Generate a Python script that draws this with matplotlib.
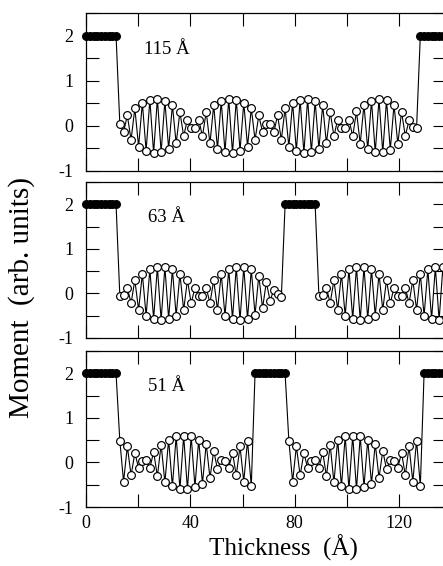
import numpy as np
import matplotlib
matplotlib.use('Agg')
import matplotlib.pyplot as plt
from matplotlib.ticker import MultipleLocator

plt.rcParams['font.family'] = ['Liberation Serif', 'DejaVu Serif']
plt.rcParams['axes.unicode_minus'] = False

# monolayer spacing along the growth direction (Angstrom)
spacing = 1.44

# Fe layers (moment fixed at 2)
fe = [2, 2, 2, 2, 2, 2, 2, 2, 2]

# Cr moments, 115 A spacer (80 monolayers)
cr_115 = [0.05, -0.14, 0.23, -0.31, 0.39, -0.46, 0.51, -0.55, 0.58, -0.60,
          0.60, -0.58, 0.55, -0.51, 0.46, -0.39, 0.31, -0.23, 0.14, -0.05,
          -0.05, 0.14, -0.23, 0.31, -0.39, 0.46, -0.51, 0.55, -0.58, 0.60,
          -0.60, 0.58, -0.55, 0.51, -0.46, 0.39, -0.31, 0.23, -0.14, 0.05,
          0.05, -0.14, 0.23, -0.31, 0.39, -0.46, 0.51, -0.55, 0.58, -0.60,
          0.60, -0.58, 0.55, -0.51, 0.46, -0.39, 0.31, -0.23, 0.14, -0.05,
          -0.05, 0.14, -0.23, 0.32, -0.40, 0.47, -0.52, 0.56, -0.59, 0.60,
          -0.59, 0.57, -0.53, 0.47, -0.40, 0.31, -0.22, 0.12, -0.03, -0.04]

# Cr moments, 63 A spacer (44 monolayers)
cr_63 = [-0.05, -0.04, 0.13, -0.22, 0.30, -0.37, 0.44, -0.50, 0.54, -0.57,
         0.59, -0.60, 0.59, -0.57, 0.54, -0.50, 0.44, -0.37, 0.30, -0.22,
         0.13, -0.05, -0.05, 0.13, -0.22, 0.30, -0.37, 0.44, -0.50, 0.54,
         -0.57, 0.59, -0.60, 0.59, -0.57, 0.54, -0.48, 0.40, -0.33, 0.25,
         -0.16, 0.08, -0.02, -0.09]

# Cr moments, 51 A spacer (36 monolayers)
cr_51 = [0.49, -0.43, 0.36, -0.29, 0.21, -0.12, 0.04, 0.06, -0.13, 0.24,
         -0.31, 0.40, -0.45, 0.51, -0.54, 0.59, -0.60, 0.60, -0.60, 0.59,
         -0.55, 0.51, -0.48, 0.42, -0.35, 0.26, -0.15, 0.06, 0.04, -0.12,
         0.22, -0.29, 0.36, -0.43, 0.49, -0.53]

panels = [fe + cr_115 + fe,
          fe + cr_63 + fe + cr_63[:35],
          fe + cr_51 + fe + cr_51 + fe]
labels = ['115 Å', '63 Å', '51 Å']

W, H = 443, 566
fig = plt.figure(figsize=(W / 100, H / 100), dpi=100)
frames = [(13, 171), (182, 338), (351, 507)]

for i, m in enumerate(panels):
    top, bot = frames[i]
    ax = fig.add_axes([86 / W, 1 - bot / H, 360 / W, (bot - top) / H])
    m = np.array(m, dtype=float)
    x = spacing * np.arange(len(m))
    iron = m == 2
    ax.plot(x, m, color='k', lw=0.8, zorder=2)
    ax.plot(x[~iron], m[~iron], 'o', ms=5.6, mfc='white', mec='k', mew=0.85, zorder=3)
    ax.plot(x[iron], m[iron], 'o', ms=5.6, mfc='k', mec='k', mew=0.85, zorder=3,
            clip_on=False)
    ax.set_xlim(0, 138)
    ax.set_ylim(-1, 2.5)
    ax.xaxis.set_major_locator(MultipleLocator(40))
    ax.xaxis.set_minor_locator(MultipleLocator(20))
    ax.yaxis.set_major_locator(MultipleLocator(1))
    ax.yaxis.set_minor_locator(MultipleLocator(0.5))
    ax.tick_params(which='both', direction='in', top=True, right=True,
                   length=9.5, width=0.8)
    ax.tick_params(axis='y', labelsize=13, pad=9)
    ax.tick_params(axis='x', labelsize=13, pad=6)
    for s in ax.spines.values():
        s.set_linewidth(0.9)
    if i < 2:
        ax.tick_params(axis='x', labelbottom=False)
    ax.text(31, 1.70, labels[i], fontsize=13.5, ha='center', va='center')

fig.text(22 / W, 1 - 298 / H, 'Moment  (arb. units)', rotation=90,
         fontsize=21, ha='center', va='center')
fig.text(283 / W, 1 - 548 / H, 'Thickness  (Å)', fontsize=18,
         ha='center', va='center')

fig.savefig('out.png', dpi=100)
